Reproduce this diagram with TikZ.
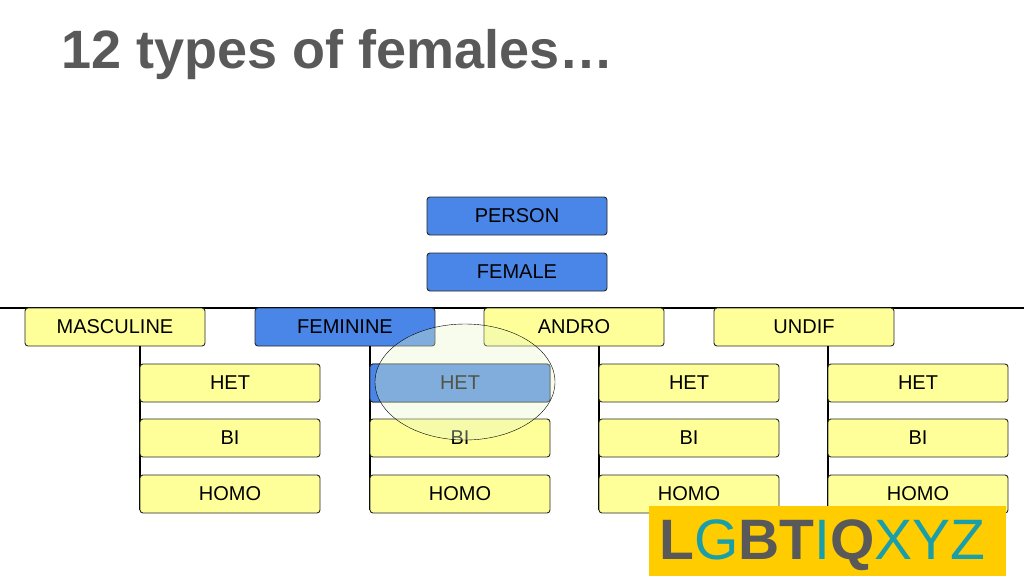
\documentclass[tikz,border=0pt]{standalone}
\usepackage{fontspec}
\setmainfont{Liberation Sans}
\usepackage{tikz}
\usetikzlibrary{positioning, shapes.geometric}
\definecolor{boxblue}{HTML}{4A86E8}
\definecolor{boxyellow}{HTML}{FFFF99}
\definecolor{titlegrey}{HTML}{595959}
\definecolor{logoteal}{HTML}{1A9EAA}
\definecolor{logogold}{HTML}{FFCC00}
\definecolor{glow}{HTML}{E8F6C8}

\begin{document}
\begin{tikzpicture}[x=1pt,y=-1pt,
    cat/.style={draw=black!85,line width=0.9pt,rounded corners=3pt,minimum width=180pt,minimum height=38pt,
      inner sep=0pt,font=\fontsize{20}{20}\selectfont},
    blue cat/.style={cat,fill=boxblue},
    yellow cat/.style={cat,fill=boxyellow}]
  \useasboundingbox (0,0) rectangle (1024,576);
  \node[anchor=west,text=titlegrey,font=\fontsize{54}{54}\selectfont\bfseries] (title) at (58,55) {12 types of females…};

  \node[blue cat] (person) at (517,216) {PERSON};
  \node[blue cat] (female) at (517,272) {FEMALE};
  \coordinate (lineL) at (0,308);
  \coordinate (lineR) at (1024,308);
  \draw[line width=2.5pt] (lineL) -- (lineR);

  \node[yellow cat] (masc) at (115,327) {MASCULINE};
  \node[blue cat] (fem) at (345,327) {FEMININE};
  \node[yellow cat] (andro) at (574,327) {ANDRO};
  \node[yellow cat] (undif) at (804,327) {UNDIF};

  % columns of orientations
  \foreach \p/\x in {masc/230,fem/460,andro/689,undif/918} {
    \coordinate (\p top) at (\x-90,346);
    \coordinate (\p bot) at (\x-90,510);
    \draw[line width=2pt] (\p top) -- (\p bot);
    \node[yellow cat] (\p het) at (\x,383) {HET};
    \node[yellow cat] (\p bi) at (\x,438) {BI};
    \node[yellow cat] (\p homo) at (\x,494) {HOMO};
  }
  \node[blue cat] at (femhet) {HET};

  \fill[logogold] (649,506) rectangle (1006,576);
  \node[anchor=west,font=\fontsize{57}{57}\selectfont] (logo) at (656,545)
    {\textcolor{titlegrey}{\bfseries L}\textcolor{logoteal}{G}\textcolor{titlegrey}{\bfseries BT}\textcolor{logoteal}{I}\textcolor{titlegrey}{\bfseries Q}\textcolor{logoteal}{XYZ}};

  \node[draw=black,ellipse,fill=glow,fill opacity=0.35,minimum width=180pt,minimum height=116pt] (circ) at (465,382) {};
\end{tikzpicture}
\end{document}
